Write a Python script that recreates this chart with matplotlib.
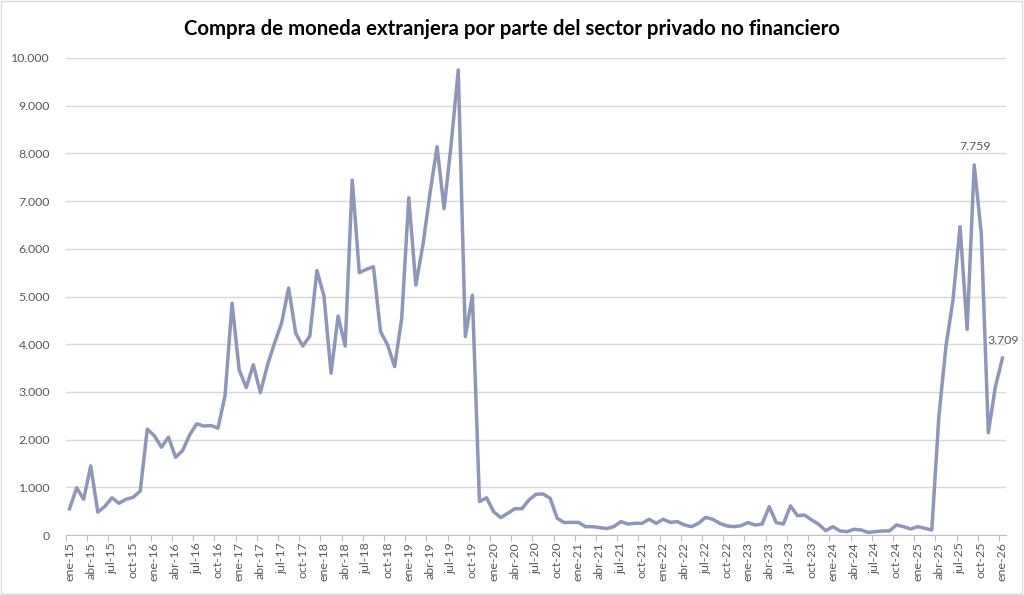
import matplotlib
matplotlib.use("Agg")
import matplotlib.pyplot as plt
from matplotlib.patches import Rectangle
from matplotlib.ticker import FuncFormatter, FixedLocator

plt.rcParams['font.family'] = ['Lato', 'DejaVu Sans']

title = "Compra de moneda extranjera por parte del sector privado no financiero"

month_abbr = ["ene", "feb", "mar", "abr", "may", "jun", "jul", "ago", "sep", "oct", "nov", "dic"]
years = list(range(15, 27))
months = [f"{m}-{y:02d}" for y in years for m in month_abbr][:133]  # ene-15 .. ene-26

values = [
    550, 990, 750, 1450, 480, 600, 780, 665, 750, 790, 920, 2220,
    2080, 1840, 2050, 1630, 1770, 2100, 2330, 2285, 2295, 2240, 2920, 4860,
    3460, 3090, 3570, 2985, 3560, 4020, 4440, 5180, 4230, 3960, 4170, 5545,
    5010, 3390, 4590, 3960, 7440, 5500, 5570, 5625, 4265, 3985, 3530, 4545,
    7070, 5240, 6080, 7165, 8140, 6840, 8200, 9750, 4160, 5030, 700, 780,
    490, 365, 455, 550, 550, 735, 855, 860, 770, 350, 260, 265,
    265, 175, 175, 155, 135, 175, 280, 230, 245, 245, 330, 245,
    330, 265, 280, 210, 175, 245, 370, 330, 245, 190, 175, 195,
    260, 210, 230, 595, 260, 230, 610, 405, 420, 315, 225, 90,
    175, 85, 70, 120, 105, 55, 70, 85, 85, 210, 175, 125,
    175, 140, 105, 2480, 3950, 4930, 6465, 4310, 7759, 6325, 2145, 3110,
    3709,
]

labeled_points = [128, 132]

line_color = "#8E97B7"
text_color = "#595959"
grid_color = "#D9D9D9"

fig = plt.figure(figsize=(10.24, 5.95), dpi=100)
ax = fig.add_axes([66 / 1024, 60 / 595, 940 / 1024, 477 / 595])

x = list(range(len(values)))
ax.plot(x, values, color=line_color, linewidth=2.5, solid_joinstyle='round', zorder=3)

ax.set_xlim(-0.5, len(values) - 0.5)
ax.set_ylim(0, 10000)
ax.set_yticks(range(0, 10001, 1000))
ax.yaxis.set_major_formatter(FuncFormatter(lambda v, p: f"{int(v):,}".replace(",", ".")))
ax.grid(axis='y', color=grid_color, linewidth=1.0, zorder=0)
ax.set_axisbelow(True)

label_idx = list(range(0, len(values), 3))
ax.xaxis.set_major_locator(FixedLocator(label_idx))
ax.set_xticklabels([months[i] for i in label_idx], rotation=90)
ax.xaxis.set_minor_locator(FixedLocator([i - 0.5 for i in label_idx]))
ax.tick_params(axis='x', which='major', length=0, pad=5, labelsize=8.9, labelcolor=text_color)
ax.tick_params(axis='x', which='minor', length=4, width=0.8, color="#BFBFBF")
ax.tick_params(axis='y', length=0, pad=11.5, labelsize=8.9, labelcolor=text_color)

for s in ['top', 'right', 'left']:
    ax.spines[s].set_visible(False)
ax.spines['bottom'].set_color("#BFBFBF")
ax.spines['bottom'].set_linewidth(0.8)

for i in labeled_points:
    ax.annotate(f"{values[i]:,}".replace(",", "."), (x[i], values[i]),
                xytext=(1, 18), textcoords='offset pixels', ha='center', va='center',
                fontsize=8.9, color=text_color, zorder=4)

fig.text(512 / 1024, 1 - 29 / 595, title, ha='center', va='center',
         fontsize=14.7, fontweight='bold', color='black')

fig.patches.append(Rectangle((1 / 1024, 1 / 595), 1021 / 1024, 593 / 595,
                             transform=fig.transFigure, fill=False,
                             edgecolor=grid_color, linewidth=1.0))

fig.savefig("out.png", dpi=100, facecolor='white')
